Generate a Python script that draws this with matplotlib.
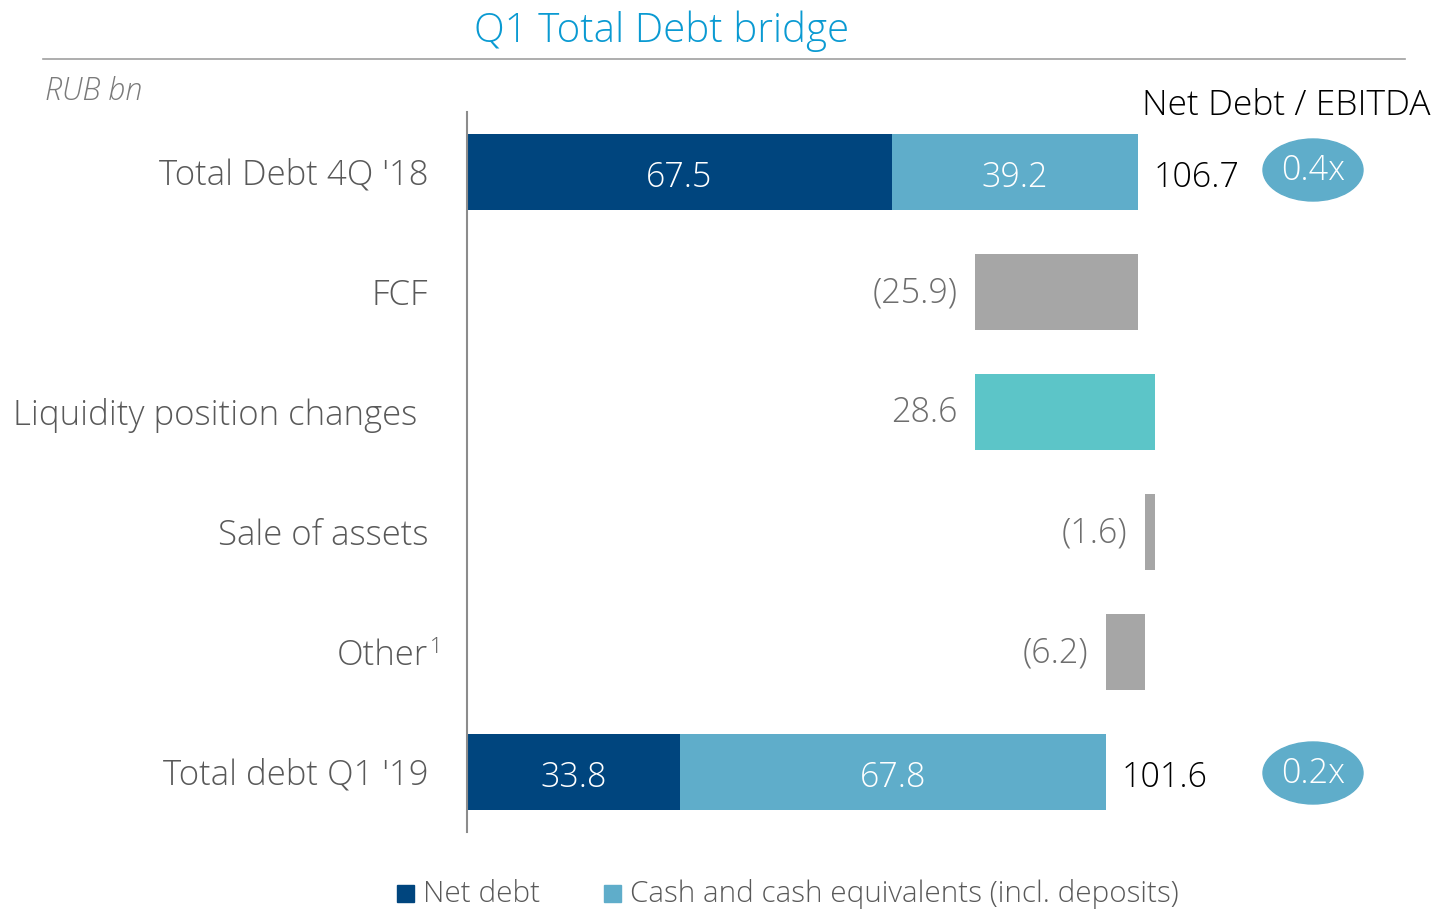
import matplotlib
matplotlib.use("Agg")
import matplotlib.pyplot as plt
from matplotlib.patches import Ellipse

plt.rcParams['font.family'] = ['Open Sans', 'DejaVu Sans']
plt.rcParams['font.weight'] = 'light'

categories = ["Total Debt 4Q '18", "FCF", "Liquidity position changes",
              "Sale of assets", "Other¹", "Total debt Q1 '19"]
net_debt = [67.5, 33.8]
cash = [39.2, 67.8]
changes = [-25.9, 28.6, -1.6, -6.2]
change_labels = ["(25.9)", "28.6", "(1.6)", "(6.2)"]
change_colors = ["#A6A6A6", "#5CC5C8", "#A6A6A6", "#A6A6A6"]
ratios = ["0.4x", "0.2x"]

navy = "#00457E"
light = "#5FADCA"
grey_txt = "#595959"

W, H = 1439, 909
fig = plt.figure(figsize=(W / 100, H / 100), dpi=100)
ax = fig.add_axes([467 / W, (H - 832) / H, (W - 467) / W, 720 / H])

bh = 0.633
total_rows = [0, 5]
# totals
for i, row in enumerate(total_rows):
    ax.barh(row, net_debt[i], height=bh, color=navy)
    ax.barh(row, cash[i], left=net_debt[i], height=bh, color=light)
    tot = net_debt[i] + cash[i]
    ax.text(net_debt[i] / 2, row + 0.045, f"{net_debt[i]:.1f}", color="white",
            ha="center", va="center", fontsize=24.5)
    ax.text(net_debt[i] + cash[i] / 2, row + 0.045, f"{cash[i]:.1f}", color="white",
            ha="center", va="center", fontsize=24.5)
    ax.text(tot + 2.4, row + 0.045, f"{tot:.1f}", color="black",
            ha="left", va="center", fontsize=24.5)

# bridge steps
level = net_debt[0] + cash[0]
for j, ch in enumerate(changes):
    row = j + 1
    left = min(level, level + ch)
    ax.barh(row, abs(ch), left=left, height=bh, color=change_colors[j])
    ax.text(left - 2.8, row + 0.01, change_labels[j], color="#6E6E6E",
            ha="right", va="center", fontsize=24.5)
    level += ch

ax.set_xlim(0, (W - 467) / 6.29)
ax.set_ylim(5.5, -0.5)
ax.set_yticks([])
ax.set_xticks([])
for s in ["top", "right", "bottom"]:
    ax.spines[s].set_visible(False)
ax.spines["left"].set_color("#8C8C8C")
ax.spines["left"].set_linewidth(1.5)

# category labels
for row, cat in enumerate(categories):
    dx = -35.5 if cat.startswith("Liquidity") else -28
    txt = cat.rstrip("¹")
    ax.annotate(txt, xy=(0, row), xycoords=("axes fraction", "data"),
                xytext=(dx, -2.5), textcoords="offset points",
                ha="right", va="center", fontsize=25, color=grey_txt)
    if cat.endswith("¹"):
        ax.annotate("1", xy=(0, row), xycoords=("axes fraction", "data"),
                    xytext=(-22.5, 3.5), textcoords="offset points",
                    ha="center", va="center", fontsize=15.5, color=grey_txt)

# title and header
fig.text(662 / W, 1 - 31 / H, "Q1 Total Debt bridge", color="#0A9AD2",
         ha="center", va="center", fontsize=29)
fig.add_artist(plt.Line2D([43 / W, 1405 / W], [1 - 59 / H, 1 - 59 / H],
                          color="#A0A0A0", linewidth=1.2))
fig.text(45 / W, 1 - 92 / H, "RUB bn", color="#7A7A7A", style="italic",
         ha="left", va="center", fontsize=22)
fig.text(1430 / W, 1 - 106 / H, "Net Debt / EBITDA", color="black",
         ha="right", va="center", fontsize=25.5)

for i, yy in enumerate([170, 773]):
    e = Ellipse((1313 / W, 1 - yy / H), 100 / W, 62 / H, transform=fig.transFigure,
                color=light)
    fig.add_artist(e)
    fig.text(1313 / W, 1 - (yy + 1) / H, ratios[i], color="white", ha="center",
             va="center", fontsize=24.5)

# legend
fig.add_artist(plt.Rectangle((397 / W, 1 - 902 / H), 17 / W, 17 / H,
                             transform=fig.transFigure, color=navy))
fig.text(423 / W, 1 - 894 / H, "Net debt", color=grey_txt, ha="left",
         va="center", fontsize=21.3)
fig.add_artist(plt.Rectangle((604 / W, 1 - 902 / H), 17 / W, 17 / H,
                             transform=fig.transFigure, color=light))
fig.text(630 / W, 1 - 894 / H, "Cash and cash equivalents (incl. deposits)",
         color=grey_txt, ha="left", va="center", fontsize=21.3)

fig.savefig("out.png", dpi=100)
